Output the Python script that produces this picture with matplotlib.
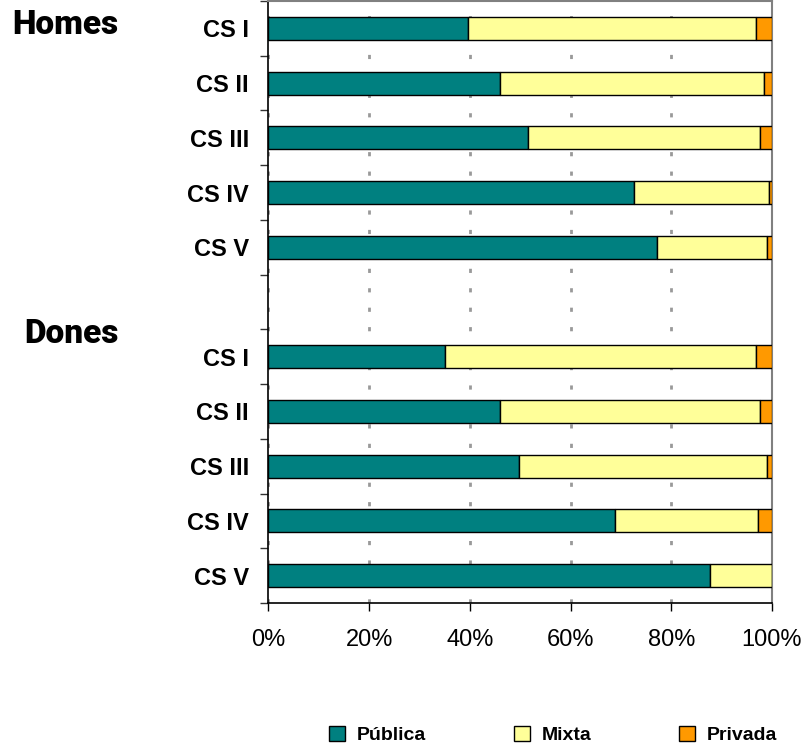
import numpy as np
import matplotlib
matplotlib.use('Agg')
import matplotlib.pyplot as plt
from matplotlib.patches import Patch

# --- data (percent of each group) ---
groups = ['Homes', 'Dones']
classes = ['CS I', 'CS II', 'CS III', 'CS IV', 'CS V']
series = ['Pública', 'Mixta', 'Privada']
colors = ['#008080', '#FFFF99', '#FF9900']

homes_publica = [39.7, 46.0, 51.6, 72.5, 77.1]
homes_mixta = [57.1, 52.5, 46.1, 27.0, 22.0]
homes_privada = [3.2, 1.5, 2.3, 0.5, 0.9]

dones_publica = [35.1, 46.0, 49.8, 68.9, 87.6]
dones_mixta = [61.7, 51.7, 49.3, 28.3, 12.4]
dones_privada = [3.2, 2.3, 0.9, 2.8, 0.0]

plt.rcParams['font.family'] = ['Liberation Sans', 'DejaVu Sans']

fig = plt.figure(figsize=(8.08, 7.5), dpi=100)
ax = fig.add_axes([0.3323, 0.196, 0.6231, 0.8027])

# 11 slots: 5 for Homes, one blank, 5 for Dones
pos_homes = np.arange(5)
pos_dones = np.arange(6, 11)
height = 0.42

for pos, vals in [(pos_homes, [homes_publica, homes_mixta, homes_privada]),
                  (pos_dones, [dones_publica, dones_mixta, dones_privada])]:
    left = np.zeros(5)
    for v, c in zip(vals, colors):
        v = np.array(v)
        ax.barh(pos, v, left=left, height=height, color=c,
                edgecolor='black', linewidth=1.0, zorder=3)
        left = left + v

ax.set_xlim(0, 100)
ax.set_ylim(10.5, -0.5)

# category labels at centers, tick marks between categories
ax.set_yticks(list(pos_homes) + list(pos_dones))
ax.set_yticklabels(classes + classes, fontsize=17, fontweight='bold')
ax.tick_params(axis='y', length=0, pad=14)
ax.set_yticks(np.arange(-0.5, 11, 1.0), minor=True)
ax.tick_params(axis='y', which='minor', length=6, width=1.0, color='#333333')

ax.set_xticks(np.arange(0, 101, 20))
ax.set_xticklabels([f'{x}%' for x in range(0, 101, 20)], fontsize=17)
ax.tick_params(axis='x', length=6, width=1.0, pad=13)

ax.xaxis.grid(True, color='#999999', linewidth=2.0, linestyle=(0, (1.5, 5.5)))
ax.set_axisbelow(True)

for s in ['left', 'bottom']:
    ax.spines[s].set_color('black')
    ax.spines[s].set_linewidth(1.2)
for s in ['top', 'right']:
    ax.spines[s].set_color('#808080')
    ax.spines[s].set_linewidth(1.5)

# group titles
fig.text(12 / 808, 1 - 25 / 750, 'Homes', fontsize=24, fontweight='black',
         family=['Roboto', 'DejaVu Sans'], va='center', ha='left')
fig.text(24 / 808, 1 - 334 / 750, 'Dones', fontsize=24, fontweight='black',
         family=['Roboto', 'DejaVu Sans'], va='center', ha='left')

handles = [Patch(facecolor=c, edgecolor='black', linewidth=1.0) for c in colors]
fig.legend(handles, series, loc='center', ncol=3, frameon=False,
           bbox_to_anchor=(553 / 808, 1 - 735 / 750),
           prop={'weight': 'bold', 'size': 14},
           handlelength=0.82, handleheight=0.82, handletextpad=0.62,
           columnspacing=4.5)

fig.savefig('out.png', dpi=100)
